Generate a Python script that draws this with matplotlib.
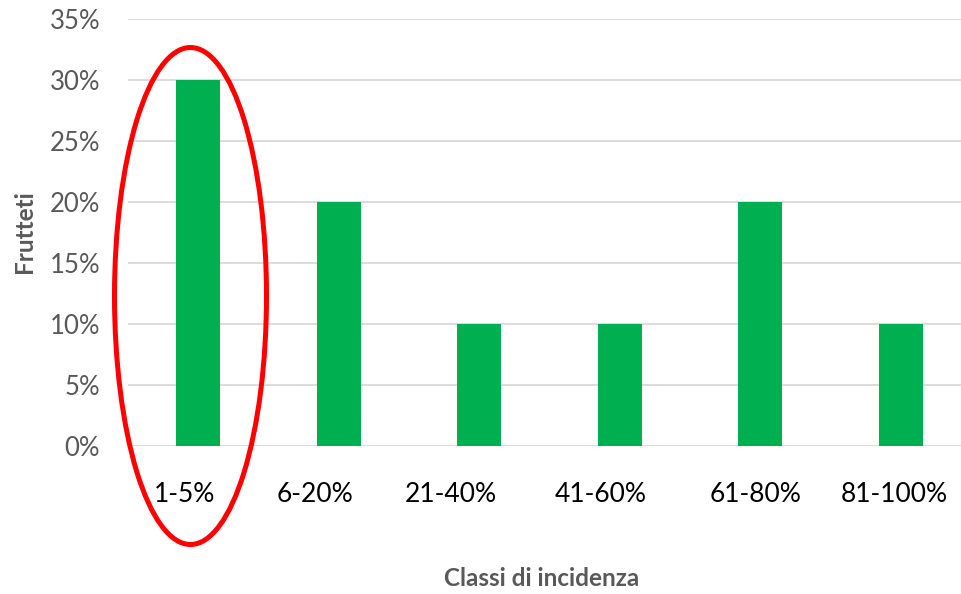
import matplotlib
matplotlib.use("Agg")
import matplotlib.pyplot as plt
from matplotlib.patches import Ellipse
from matplotlib.ticker import FuncFormatter, MultipleLocator
from matplotlib.transforms import ScaledTranslation

categories = ["1-5%", "6-20%", "21-40%", "41-60%", "61-80%", "81-100%"]
values = [30, 20, 10, 10, 20, 10]
y_label = "Frutteti"
x_label = "Classi di incidenza"

plt.rcParams['font.family'] = ['Lato', 'DejaVu Sans']

W, H = 961, 594
fig = plt.figure(figsize=(W / 100, H / 100), dpi=100)
left, right = 128, 971
top, bottom = 18.7, 445.7
ax = fig.add_axes([left / W, 1 - bottom / H, (right - left) / W, (bottom - top) / H])

x = list(range(len(categories)))
ax.bar(x, values, width=0.313, color="#00B050", zorder=3)
ax.set_xlim(-0.5, len(categories) - 0.5)
ax.set_ylim(0, 35)
ax.yaxis.set_major_locator(MultipleLocator(5))
ax.yaxis.set_major_formatter(FuncFormatter(lambda v, p: f"{int(round(v))}%"))
ax.grid(axis="y", color="#D9D9D9", linewidth=1.3, zorder=0)
for s in ax.spines.values():
    s.set_visible(False)
ax.tick_params(axis="both", length=0)
ax.tick_params(axis="y", labelsize=18.5, labelcolor="#595959", pad=20)
ax.tick_params(axis="x", labelsize=19, labelcolor="#000000", pad=26)
ax.set_xticks(x)
ax.set_xticklabels(categories)

# the reference's category labels sit slightly left of their bars
label_shift_px = [-14, -24, -28, -19, -5, -6]
for lbl, dx in zip(ax.get_xticklabels(), label_shift_px):
    lbl.set_transform(lbl.get_transform() + ScaledTranslation(dx / 100, 0, fig.dpi_scale_trans))

fig.text(25 / W, 1 - 232 / H, y_label, rotation=90, ha="center", va="center",
         fontsize=17.5, fontweight="bold", color="#595959")
fig.text(541.7 / W, 1 - 579 / H, x_label, ha="center", va="center",
         fontsize=17.5, fontweight="bold", color="#595959")

# highlight ellipse around the first category
px_per_cat = (right - left) / len(categories)
px_per_val = (bottom - top) / 35
ecx = -0.5 + (190.5 - left) / px_per_cat
ecy = (bottom - 296) / px_per_val
ew = 152 / px_per_cat
eh = 497 / px_per_val
ax.add_patch(Ellipse((ecx, ecy), ew, eh, fill=False, edgecolor="#FF0000",
                     linewidth=3.6, clip_on=False, zorder=5))

fig.savefig("out.png", dpi=100)
